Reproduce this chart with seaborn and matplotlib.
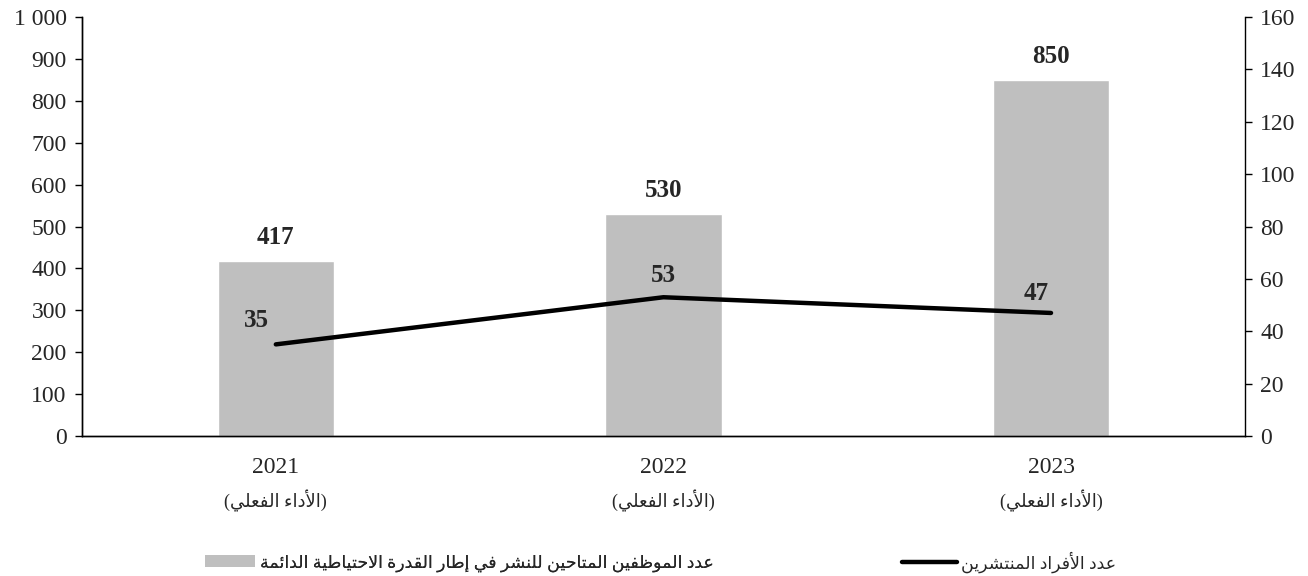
import matplotlib
matplotlib.use("Agg")
import matplotlib.pyplot as plt
from matplotlib.lines import Line2D
from matplotlib.patches import Patch
import numpy as np
import seaborn as sns

# data
years = ["2021", "2022", "2023"]
period_note = "(الأداء الفعلي)"
deployable_staff = [417, 530, 850]   # bars, left axis
deployed_people = [35, 53, 47]       # line, right axis
bar_label = "عدد الموظفين المتاحين للنشر في إطار القدرة الاحتياطية الدائمة"
line_label = "عدد الأفراد المنتشرين"
left_ticks = [0, 100, 200, 300, 400, 500, 600, 700, 800, 900, 1000]
right_ticks = [0, 20, 40, 60, 80, 100, 120, 140, 160]

BAR_COLOR = "#BFBFBF"

# --- minimal Arabic shaping (matplotlib has no complex text layout) ---
# letter -> (first presentation form, joining kind: 0 none, 1 right, 2 dual)
FORMS = {
    "\u0621": (0xFE80, 0), "\u0622": (0xFE81, 1), "\u0623": (0xFE83, 1),
    "\u0624": (0xFE85, 1), "\u0625": (0xFE87, 1), "\u0626": (0xFE89, 2),
    "\u0627": (0xFE8D, 1), "\u0628": (0xFE8F, 2), "\u0629": (0xFE93, 1),
    "\u062A": (0xFE95, 2), "\u062B": (0xFE99, 2), "\u062C": (0xFE9D, 2),
    "\u062D": (0xFEA1, 2), "\u062E": (0xFEA5, 2), "\u062F": (0xFEA9, 1),
    "\u0630": (0xFEAB, 1), "\u0631": (0xFEAD, 1), "\u0632": (0xFEAF, 1),
    "\u0633": (0xFEB1, 2), "\u0634": (0xFEB5, 2), "\u0635": (0xFEB9, 2),
    "\u0636": (0xFEBD, 2), "\u0637": (0xFEC1, 2), "\u0638": (0xFEC5, 2),
    "\u0639": (0xFEC9, 2), "\u063A": (0xFECD, 2), "\u0641": (0xFED1, 2),
    "\u0642": (0xFED5, 2), "\u0643": (0xFED9, 2), "\u0644": (0xFEDD, 2),
    "\u0645": (0xFEE1, 2), "\u0646": (0xFEE5, 2), "\u0647": (0xFEE9, 2),
    "\u0648": (0xFEED, 1), "\u0649": (0xFEEF, 1), "\u064A": (0xFEF1, 2),
}
LAM_ALEF = {"\u0622": 0xFEF5, "\u0623": 0xFEF7, "\u0625": 0xFEF9, "\u0627": 0xFEFB}
MIRROR = {"(": ")", ")": "("}


def shape_arabic(text):
    """Return the visual (left-to-right) glyph string for an Arabic text."""
    out = []
    prev_joins = False
    i = 0
    while i < len(text):
        c = text[i]
        nxt = text[i + 1] if i + 1 < len(text) else None
        if c == "\u0644" and nxt in LAM_ALEF:
            out.append(chr(LAM_ALEF[nxt] + (1 if prev_joins else 0)))
            prev_joins = False
            i += 2
            continue
        if c not in FORMS:
            out.append(MIRROR.get(c, c))
            prev_joins = False
            i += 1
            continue
        base, kind = FORMS[c]
        joins_next = kind == 2 and nxt in FORMS and FORMS[nxt][1] > 0
        joins_prev = prev_joins and kind > 0
        if joins_prev and joins_next:
            form = 3
        elif joins_prev:
            form = 1
        elif joins_next:
            form = 2
        else:
            form = 0
        out.append(chr(base + form))
        prev_joins = joins_next
        i += 1
    return "".join(reversed(out))


sns.set_style("white")
plt.rcParams["font.family"] = ["Liberation Serif", "DejaVu Sans"]
plt.rcParams["font.size"] = 17

fig = plt.figure(figsize=(13.08, 5.76), dpi=100)
ax = fig.add_axes([0.0627, 0.243, 0.889, 0.7274])

sns.barplot(x=years, y=deployable_staff, color=BAR_COLOR, saturation=1,
            width=0.3, ax=ax)
ax2 = ax.twinx()
pos = np.arange(len(years))
sns.lineplot(x=pos, y=deployed_people, color="black", linewidth=3.2, ax=ax2)

ax.set_xlim(-0.5, len(years) - 0.5)
ax.set_ylim(0, 1000)
ax2.set_ylim(0, 160)
ax.set_yticks(left_ticks)
ax.set_yticklabels([f"{t:,}".replace(",", " ") for t in left_ticks])
ax2.set_yticks(right_ticks)
ax.set_xticks(pos)
ax.set_xticklabels(years)
ax.set_xlabel("")
ax.set_ylabel("")
ax2.set_ylabel("")

for a in (ax, ax2):
    for s in a.spines.values():
        s.set_color("black")
        s.set_linewidth(1.0)
    a.spines["top"].set_visible(False)
ax.spines["right"].set_visible(False)
ax.tick_params(axis="y", direction="out", length=5, width=1, color="black",
               labelsize=17, pad=6)
ax2.tick_params(axis="y", direction="out", length=5, width=1, color="black",
                labelsize=17, pad=6)
ax.tick_params(axis="x", length=0, labelsize=17, pad=15)

# Arabic second line of the category labels
for i in pos:
    ax.text(i, -0.155, shape_arabic(period_note), transform=ax.get_xaxis_transform(),
            ha="center", va="center", fontsize=13)

# value labels
for i, v in zip(pos, deployable_staff):
    ax.annotate(str(v), (i, v), xytext=(0, 17), textcoords="offset points",
                ha="center", va="center", fontsize=18, fontweight="bold")
line_label_dx = [-14, 0, -11]
line_label_dy = [17, 16, 14]
for i, v, dx, dy in zip(pos, deployed_people, line_label_dx, line_label_dy):
    ax2.annotate(str(v), (i, v), xytext=(dx, dy), textcoords="offset points",
                 ha="center", va="center", fontsize=18, fontweight="bold")

# legend, one item at a time to keep the reference spacing
leg_kw = dict(frameon=False, borderpad=0, borderaxespad=0, fontsize=12.5,
              handletextpad=0.25, loc="center left")
leg1 = fig.legend(handles=[Patch(facecolor=BAR_COLOR, edgecolor="none")],
                  labels=[shape_arabic(bar_label)], handlelength=2.9,
                  handleheight=0.7, bbox_to_anchor=(205 / 1308, 1 - 563 / 576), **leg_kw)
fig.legend(handles=[Line2D([], [], color="black", linewidth=3.2)],
           labels=[shape_arabic(line_label)], handlelength=3.15,
           bbox_to_anchor=(902 / 1308, 1 - 562 / 576), **leg_kw)
fig.add_artist(leg1)

fig.savefig("out.png", dpi=100)
